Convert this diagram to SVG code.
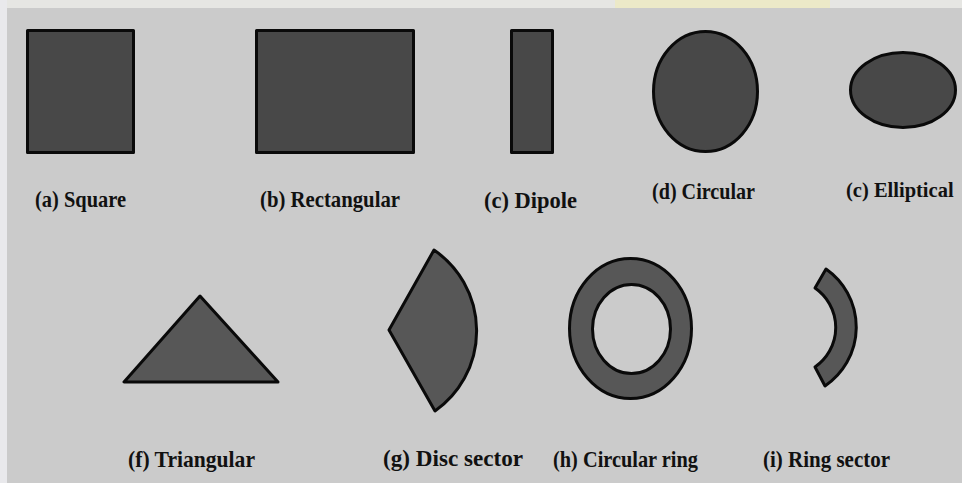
<svg xmlns="http://www.w3.org/2000/svg" width="962" height="483" viewBox="0 0 962 483">
<style>
.shape{fill:#484848;stroke:#0a0a0a;stroke-width:3;stroke-linejoin:round}
.shape2{fill:#575757;stroke:#0a0a0a;stroke-width:3;stroke-linejoin:round}
.lbl{font-family:"Liberation Serif","Times New Roman",serif;font-weight:bold;font-size:23px;fill:#111}
</style>
<rect x="0" y="0" width="962" height="483" fill="#cbcbcb"/>
<rect x="0" y="0" width="962" height="8" fill="#e6e6e3"/>
<rect x="615" y="0" width="215" height="8" fill="#ece9c8"/>
<rect x="0" y="0" width="7" height="483" fill="#e9e9ec"/>
<g id="square"><rect class="shape" x="27.5" y="30.5" width="106" height="122"/><text class="lbl" x="35" y="207" textLength="91" lengthAdjust="spacingAndGlyphs">(a) Square</text></g>
<g id="rectangular"><rect class="shape" x="256.5" y="30.5" width="157" height="122"/><text class="lbl" x="260" y="207" textLength="140" lengthAdjust="spacingAndGlyphs">(b) Rectangular</text></g>
<g id="dipole"><rect class="shape" x="511.5" y="30.5" width="41" height="122"/><text class="lbl" x="484" y="208" textLength="93" lengthAdjust="spacingAndGlyphs">(c) Dipole</text></g>
<g id="circular"><ellipse class="shape" cx="705.5" cy="91.5" rx="52" ry="60"/><text class="lbl" x="652" y="199" textLength="103" lengthAdjust="spacingAndGlyphs">(d) Circular</text></g>
<g id="elliptical"><ellipse class="shape" cx="903" cy="90" rx="52.5" ry="37.5"/><text class="lbl" x="846" y="197" style="font-size:20.5px">(c) Elliptical</text></g>
<g id="triangular"><polygon class="shape2" points="200,296 124,382 278,382"/><text class="lbl" x="128" y="467" textLength="127" lengthAdjust="spacingAndGlyphs">(f) Triangular</text></g>
<g id="disc-sector"><path class="shape2" d="M389,330 L434,250 A98 98 0 0 1 435,411 Z"/><text class="lbl" x="383" y="466" textLength="140" lengthAdjust="spacingAndGlyphs">(g) Disc sector</text></g>
<g id="circular-ring"><path class="shape2" fill-rule="evenodd" d="M569.5,328.5 a61,70 0 1 0 122,0 a61,70 0 1 0 -122,0 Z M592.5,329 a39,44.5 0 1 0 78,0 a39,44.5 0 1 0 -78,0 Z"/><text class="lbl" x="553" y="467" textLength="145" lengthAdjust="spacingAndGlyphs">(h) Circular ring</text></g>
<g id="ring-sector"><path class="shape2" d="M826,269 A71 71 0 0 1 825,386 L815,367 A48 48 0 0 0 815,288 Z"/><text class="lbl" x="763" y="467" textLength="127" lengthAdjust="spacingAndGlyphs">(i) Ring sector</text></g>
<g id="connectors"/>
</svg>
